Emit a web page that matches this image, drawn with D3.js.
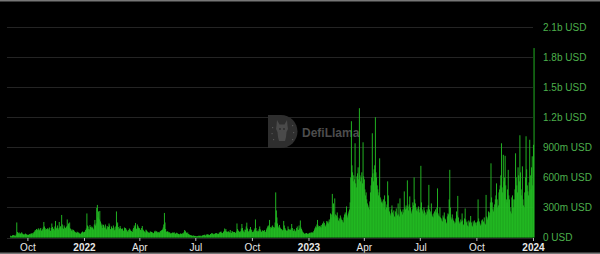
<!DOCTYPE html>
<html><head><meta charset="utf-8">
<script src="https://cdn.jsdelivr.net/npm/d3@7"></script>
<style>html,body{margin:0;padding:0;background:#000;overflow:hidden}</style>
</head><body><svg id="c" width="600" height="254"></svg>
<script>
// Daily volume in millions of USD, first value = 2021-09-03
const startDate = "2021-09-03";
const vol2021 = [
 18,12,15,22,20,25,18,20,14,30,150,55,48,42,50,35,38,45,52,40,36,30,28,33,40,35,30,26,
 28,25,30,35,32,40,38,45,30,42,55,60,75,68,85,70,78,92,80,72,88,95,70,65,82,100,155,110,95,78,85,
 80,92,75,88,100,70,65,95,140,105,90,85,72,110,165,98,88,120,95,80,155,100,112,90,225,130,95,85,120,105,
 95,88,110,180,120,140,100,150,90,85,70,62,80,75,68,60,55,48,45,58,52,50,47,40,35,38,45,55,60,52,48
];
const vol2022 = [
 55,60,75,90,240,120,110,85,80,125,105,95,110,100,90,80,130,175,120,140,295,325,200,260,180,265,160,140,120,95,130,
 125,110,95,130,90,80,115,100,105,140,120,85,78,110,95,88,120,100,72,80,110,260,130,150,105,80,90,115,
 95,85,78,90,70,65,100,88,95,80,72,60,58,75,90,82,70,65,60,55,80,95,120,105,145,90,85,130,115,100,95,
 88,75,70,95,115,80,72,65,55,50,78,70,62,55,50,45,48,60,58,55,52,48,42,45,60,68,55,62,58,50,
 50,55,48,60,65,70,75,80,100,130,245,150,85,60,55,62,58,50,52,48,40,38,45,50,42,48,52,40,35,45,48,
 42,38,35,30,32,40,38,36,34,45,40,55,75,65,55,45,40,50,35,30,28,25,22,20,18,16,20,18,15,16,
 15,12,10,14,16,18,15,20,14,12,18,20,22,25,28,20,18,30,28,32,26,30,25,22,35,32,45,40,38,30,35,
 38,42,40,45,38,32,35,48,50,55,60,48,45,42,55,65,90,70,85,60,52,58,62,55,50,75,48,45,65,58,55,
 50,55,48,45,60,140,85,70,65,55,50,62,90,135,95,70,58,52,80,75,110,148,90,65,55,70,85,105,80,72,
 55,48,60,75,90,180,95,65,58,70,62,85,110,80,60,55,68,72,65,60,75,58,55,80,95,110,120,100,175,90,105,
 95,110,120,105,90,100,150,450,270,200,140,110,95,125,100,90,85,80,70,75,165,120,95,80,72,65,70,110,85,78,
 80,75,90,135,95,70,65,85,72,60,68,95,110,80,75,120,90,170,100,85,70,55,48,40,35,42,38,45,40,35,38
];
const vol2023 = [
 40,45,50,42,48,55,45,50,65,80,95,110,100,130,175,120,105,115,95,110,125,100,140,130,160,145,120,110,130,165,150,
 160,140,180,155,240,200,230,435,260,340,210,390,230,190,220,250,200,170,160,190,220,200,180,175,160,150,200,230,
 250,230,310,220,200,240,260,280,350,600,1160,720,650,560,620,580,940,540,500,610,640,700,580,1290,620,560,600,650,540,950,610,
 580,480,420,450,380,340,320,300,280,360,450,520,600,1040,640,560,680,720,1200,650,600,520,480,420,450,790,400,380,350,360,
 340,380,300,420,360,280,300,330,560,420,300,260,240,220,280,320,250,230,270,210,200,260,290,240,220,340,230,210,390,280,250,
 260,230,280,250,460,300,280,320,290,570,310,270,330,410,300,260,240,280,350,320,600,380,340,300,270,290,260,310,280,250,
 300,715,350,280,260,240,300,270,220,250,230,280,260,320,525,280,240,260,340,230,210,200,240,260,220,280,250,300,490,240,220,
 210,300,200,190,170,160,220,200,250,190,180,150,140,210,240,230,380,675,300,200,180,230,190,170,160,140,150,190,260,220,415,
 200,160,140,150,180,160,240,170,130,120,190,290,180,150,160,120,110,170,150,160,215,150,120,110,160,140,170,130,150,120,
 150,160,380,190,160,140,120,130,170,180,150,160,200,140,130,425,210,180,200,260,220,250,350,740,400,350,280,260,300,330,380,
 420,540,380,300,320,450,480,520,620,940,500,450,825,560,600,815,520,380,350,480,675,420,380,300,260,240,400,420,380,300,
 380,480,840,600,520,450,700,620,560,1020,650,480,420,710,380,320,300,450,600,1010,680,520,460,420,550,975,620,480,700,810,520
];
const vol2024 = [925,1890];

const yTicks = [0,300,600,900,1200,1500,1800,2100];
const yTickLabels = ["0 USD","300m USD","600m USD","900m USD","1.2b USD","1.5b USD","1.8b USD","2.1b USD"];
const xTickDates = ["2021-10-01","2022-01-01","2022-04-01","2022-07-01","2022-10-01","2023-01-01","2023-04-01","2023-07-01","2023-10-01","2024-01-01"];
const xTickLabels = ["Oct","2022","Apr","Jul","Oct","2023","Apr","Jul","Oct","2024"];

const parse = d3.utcParse("%Y-%m-%d");
const t0 = parse(startDate);
const values = [].concat(vol2021, vol2022, vol2023, vol2024);
const data = values.map((v,i)=>({date:d3.utcDay.offset(t0,i), v}));

const svg = d3.select("#c");
const x = d3.scaleUtc().domain([parse("2021-08-29"), parse("2024-01-03")]).range([7.1, 534.2]);
const y = d3.scaleLinear().domain([0,2100]).range([237.5, 27]);
const font = "'Liberation Sans', Arial, Helvetica, sans-serif";

svg.append("rect").attr("width",600).attr("height",254).attr("fill","#000");

// grid
svg.append("g").selectAll("line").data(yTicks).join("line")
  .attr("x1",7).attr("x2",533)
  .attr("y1",d=>Math.round(y(d))+0.5).attr("y2",d=>Math.round(y(d))+0.5)
  .attr("stroke","#242424").attr("stroke-width",1);

// watermark
const wm = svg.append("g").attr("transform","translate(268,115)");
wm.append("path").attr("d","M0,0 H13 A16.5,16.5 0 0 1 13,33 H0 Z").attr("fill","#2e2e2e");
wm.append("path").attr("d","M9,5 L11.5,9.5 L16.5,9.5 L19,5 L19.5,10.5 L20,14 L18.5,17 L18,22 L17,26 L11,26 L10,22 L9.5,17 L8,14 L8.5,10.5 Z").attr("fill","#4a4a4a");
wm.append("circle").attr("cx",12).attr("cy",14).attr("r",0.9).attr("fill","#2a2a2a");
wm.append("circle").attr("cx",16).attr("cy",14).attr("r",0.9).attr("fill","#2a2a2a");
[[4,12],[3.5,18],[5,24],[24,10],[25,17],[24,24]].forEach(p=>{
  wm.append("rect").attr("x",p[0]).attr("y",p[1]).attr("width",1.2).attr("height",1.2).attr("fill","#555");
});
svg.append("text").attr("x",302).attr("y",133).attr("dy","0.35em")
  .attr("font-family",font).attr("font-weight","bold").attr("font-size",12)
  .attr("fill","#4d4d4d").text("DefiLlama");

// bars
svg.append("g").selectAll("rect").data(data).join("rect")
  .attr("x",d=>x(d.date))
  .attr("width",d=>x(d3.utcDay.offset(d.date,1))-x(d.date)+0.3)
  .attr("y",d=>y(d.v))
  .attr("height",d=>y(0)-y(d.v))
  .attr("fill","#24c024");

// y labels
svg.append("g").selectAll("text").data(yTicks).join("text")
  .attr("x",543).attr("y",d=>y(d)).attr("dy","0.35em")
  .attr("font-family",font).attr("font-size",10).attr("fill","#4cb04c")
  .text((d,i)=>yTickLabels[i]);

// x axis
const xa = svg.append("g").attr("transform","translate(0,238)")
  .call(d3.axisBottom(x).tickValues(xTickDates.map(parse)).tickFormat((d,i)=>xTickLabels[i]).tickSize(3).tickPadding(3));
xa.select(".domain").remove();
xa.selectAll(".tick line").attr("stroke","#bbb");
xa.selectAll(".tick text").attr("fill","#e8e8e8").attr("font-family",font).attr("font-size",10)
  .attr("font-weight",(d,i)=>/^\d{4}$/.test(xTickLabels[i])?"bold":"normal");

// frame lines
svg.append("rect").attr("x",0).attr("y",0).attr("width",600).attr("height",1.5).attr("fill","#777");
svg.append("rect").attr("x",0).attr("y",252.5).attr("width",600).attr("height",1.5).attr("fill","#777");
</script>
</body></html>
